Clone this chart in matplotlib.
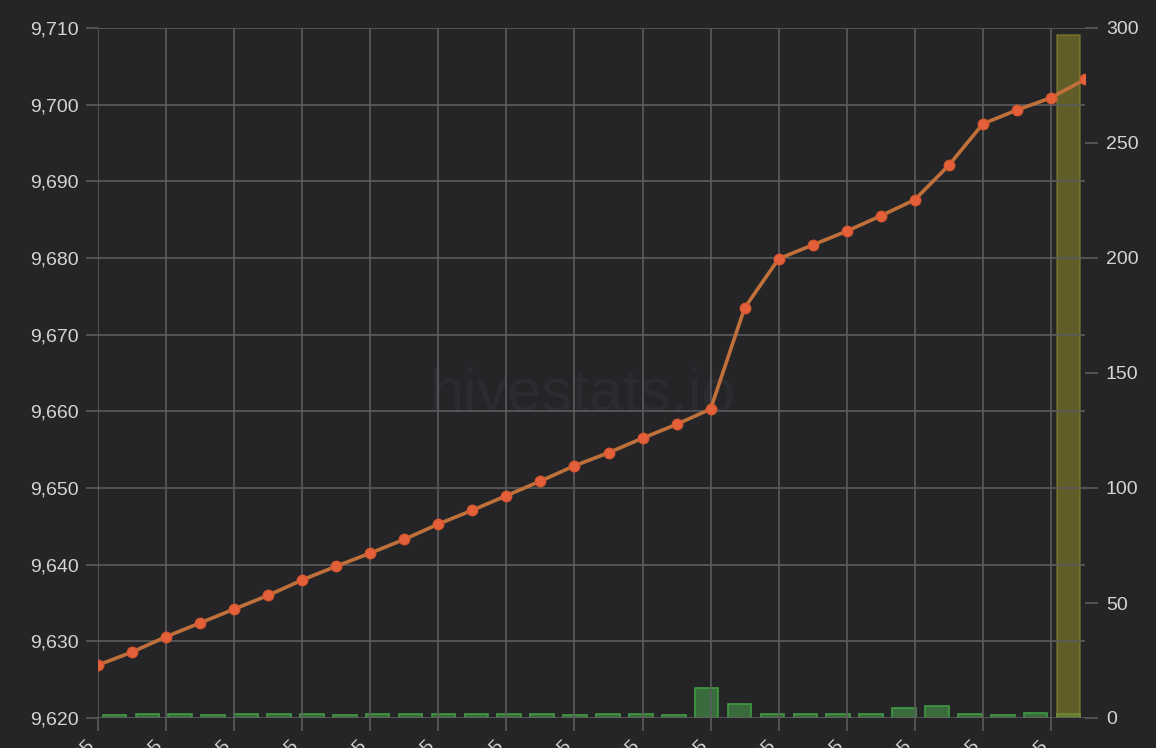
import matplotlib.pyplot as plt
import numpy as np
import datetime as dt

plt.rcParams['font.family'] = ['Liberation Sans', 'DejaVu Sans']

# data
start = dt.date(2025, 1, 5)
dates = [(start + dt.timedelta(days=i)).strftime("%b %d, %Y") for i in range(30)]

price = [9626.9, 9628.6, 9630.6, 9632.4, 9634.2, 9636.0, 9638.0, 9639.8, 9641.5, 9643.3,
         9645.3, 9647.1, 9649.0, 9650.9, 9652.9, 9654.6, 9656.5, 9658.3, 9660.3, 9673.5,
         9679.9, 9681.7, 9683.5, 9685.5, 9687.6, 9692.1, 9697.5, 9699.3, 9700.9, 9703.3]

volume = [1.3, 1.7, 1.7, 1.4, 1.7, 1.7, 1.7, 1.4, 1.7, 1.7,
          1.6, 1.6, 1.6, 1.6, 1.4, 1.6, 1.7, 1.5, 13.0, 6.2,
          1.7, 1.7, 1.7, 1.7, 4.4, 5.3, 1.7, 1.3, 2.3, 1.7]

pending = [0] * 29 + [297]

bg = '#252528'
grid_c = '#5c5c5f'
text_c = '#d4d4d6'

fig = plt.figure(figsize=(11.56, 7.48), dpi=100, facecolor=bg)
pos = [98 / 1156, 1 - 718 / 748, (1085 - 98) / 1156, (718 - 28) / 748]

# bar axis (offset categories, right scale)
axb = fig.add_axes(pos, facecolor=bg)
x = np.arange(len(dates))
axb.bar(x, volume, width=0.72, color='#3a6b3d', edgecolor='#3f9a42', linewidth=1.2, zorder=3)
axb.bar(x, pending, width=0.72, color='#8a8428', alpha=0.6, edgecolor='#8f8a30', linewidth=1.2, zorder=4)
axb.set_xlim(-0.5, len(dates) - 0.5)
axb.set_ylim(0, 300)
axb.set_yticks(np.arange(0, 301, 50))
axb.yaxis.tick_right()
axb.set_xticks([])
axb.tick_params(axis='y', colors=grid_c, labelcolor=text_c, labelsize=14, length=9, width=1.2, pad=6)
for s in axb.spines.values():
    s.set_visible(False)

# watermark
axb.text(0.491, 0.468, 'hivestats.io', transform=axb.transAxes, fontsize=44,
         color='#2c2c30', ha='center', va='center', zorder=1)

# line axis (left scale)
ax = fig.add_axes(pos, facecolor='none')
ax.plot(x, price, color='#c0703a', linewidth=2.6, zorder=5,
        marker='o', markersize=7.5, markerfacecolor='#e4603a', markeredgecolor='#d8582f')
ax.set_xlim(0, len(dates) - 1)
ax.set_ylim(9620, 9710)
ax.set_yticks(np.arange(9620, 9711, 10))
ax.set_yticklabels([f'{v:,}' for v in range(9620, 9711, 10)])
ax.set_xticks(x[::2])
ax.set_xticklabels(dates[::2], rotation=45, ha='right', va='top')
ax.grid(True, color=grid_c, linewidth=1.2, zorder=0)
ax.set_axisbelow(True)
ax.tick_params(axis='both', colors=grid_c, labelcolor=text_c, labelsize=14, length=9, width=1.2, pad=5)
ax.tick_params(axis='x', pad=5)
for s in ax.spines.values():
    s.set_visible(False)

fig.savefig('out.png', dpi=100, facecolor=bg)
